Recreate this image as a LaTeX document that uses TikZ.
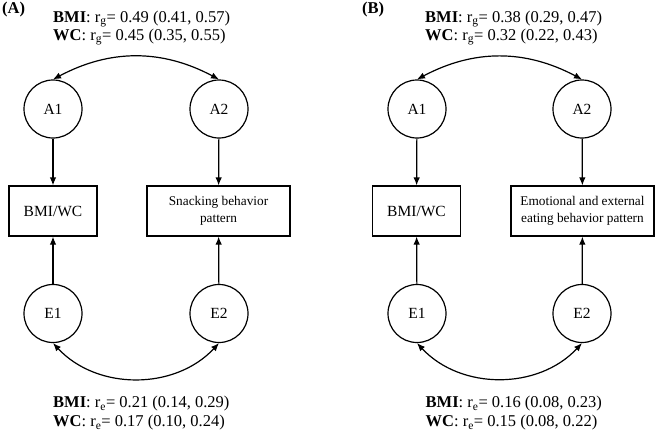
\documentclass[tikz,border=0pt]{standalone}
\usepackage{fontspec}
\setmainfont{Liberation Serif}
\usetikzlibrary{arrows.meta}
\begin{document}
\begin{tikzpicture}[x=1pt,y=1pt,
  every node/.style={font=\fontsize{15.5}{18}\selectfont},
  latent/.style={circle,draw,line width=1.2pt,minimum size=58pt,inner sep=0pt},
  obs/.style={rectangle,draw,line width=1.2pt,minimum height=50pt,inner sep=0pt,align=center},
  smalltext/.style={font=\fontsize{13.3}{17}\selectfont},
  lbl/.style={anchor=base west,inner sep=0pt,font=\fontsize{16.5}{18}\selectfont},
  conn/.style={line width=1.2pt,-{Latex[length=8pt,width=6.5pt]}},
  biconn/.style={line width=1.2pt,{Latex[length=8pt,width=6.5pt]}-{Latex[length=8pt,width=6.5pt]}}]
\useasboundingbox (0,0) rectangle (656,-432);

% Panel A
\node[lbl] (labA) at (2,-13) {\textbf{(A)}};
\node[lbl] (tA1) at (53,-22) {\textbf{BMI}: r\textsubscript{g}= 0.49 (0.41, 0.57)};
\node[lbl] (tA2) at (53,-40) {\textbf{WC}: r\textsubscript{g}= 0.45 (0.35, 0.55)};
\node[latent] (aA1) at (53,-109) {A1};
\node[latent] (aA2) at (219,-109) {A2};
\node[obs,minimum width=88pt] (bA1) at (53,-211) {BMI/WC};
\node[obs,minimum width=143pt,smalltext] (bA2) at (218.5,-211) {Snacking behavior\\pattern};
\node[latent] (eA1) at (53,-313.5) {E1};
\node[latent] (eA2) at (219,-313.5) {E2};
\node[lbl] (bA1t) at (53,-407.5) {\textbf{BMI}: r\textsubscript{e}= 0.21 (0.14, 0.29)};
\node[lbl] (bA2t) at (53,-426.5) {\textbf{WC}: r\textsubscript{e}= 0.17 (0.10, 0.24)};
\draw[biconn] (aA1.north) to[bend left=28] (aA2.north);
\draw[biconn] (eA1.south) to[bend right=47] (eA2.south);
\draw[conn] (aA1) -- (bA1);
\draw[conn] (aA2) -- (bA2);
\draw[conn] (eA1) -- (bA1);
\draw[conn] (eA2) -- (bA2);

% Panel B
\node[lbl] (labB) at (362,-13) {\textbf{(B)}};
\node[lbl] (tB1) at (425,-22) {\textbf{BMI}: r\textsubscript{g}= 0.38 (0.29, 0.47)};
\node[lbl] (tB2) at (425,-40) {\textbf{WC}: r\textsubscript{g}= 0.32 (0.22, 0.43)};
\node[latent] (aB1) at (417,-109) {A1};
\node[latent] (aB2) at (582,-109) {A2};
\node[obs,minimum width=88pt] (bB1) at (416.5,-211) {BMI/WC};
\node[obs,minimum width=143pt,smalltext] (bB2) at (582.5,-211) {Emotional and external\\eating behavior pattern};
\node[latent] (eB1) at (417,-313.5) {E1};
\node[latent] (eB2) at (582,-313.5) {E2};
\node[lbl] (bB1t) at (425.5,-407.5) {\textbf{BMI}: r\textsubscript{e}= 0.16 (0.08, 0.23)};
\node[lbl] (bB2t) at (425.5,-426.5) {\textbf{WC}: r\textsubscript{e}= 0.15 (0.08, 0.22)};
\draw[biconn] (aB1.north) to[bend left=28] (aB2.north);
\draw[biconn] (eB1.south) to[bend right=47] (eB2.south);
\draw[conn] (aB1) -- (bB1);
\draw[conn] (aB2) -- (bB2);
\draw[conn] (eB1) -- (bB1);
\draw[conn] (eB2) -- (bB2);
\end{tikzpicture}
\end{document}
